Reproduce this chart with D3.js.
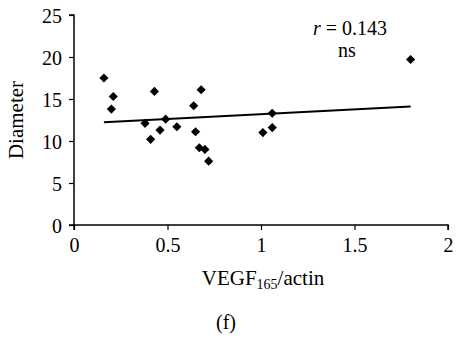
<!DOCTYPE html>
<html>
<head>
<meta charset="utf-8">
<script src="https://cdn.jsdelivr.net/npm/d3@7"></script>
<style>
  body { margin: 0; background: #fff; }
  svg text { font-family: "Liberation Serif", "DejaVu Serif", serif !important; fill: #000; }
</style>
</head>
<body>
<svg width="457" height="339"></svg>
<script>
// VEGF165/actin ratio vs diameter
var xs = [0.16, 0.21, 0.20, 0.38, 0.43, 0.41, 0.46, 0.49, 0.55, 0.64, 0.68, 0.65, 0.67, 0.70, 0.72, 1.06, 1.01, 1.06, 1.80];
var ys = [17.5, 15.3, 13.8, 12.1, 15.9, 10.2, 11.3, 12.6, 11.7, 14.2, 16.1, 11.1, 9.2, 9.0, 7.6, 13.3, 11.0, 11.6, 19.7];
var xTicks = [0, 0.5, 1, 1.5, 2];
var yTicks = [0, 5, 10, 15, 20, 25];
var trendSlope = 1.15, trendIntercept = 12.04;

var svg = d3.select("svg"),
    margin = {top: 15, right: 9, bottom: 114, left: 74},
    width = +svg.attr("width") - margin.left - margin.right,
    height = +svg.attr("height") - margin.top - margin.bottom,
    g = svg.append("g").attr("transform", "translate(" + margin.left + "," + margin.top + ")");

var x = d3.scaleLinear().domain([0, 2]).range([0, width]);
var y = d3.scaleLinear().domain([0, 25]).range([height, 0]);

var xAxis = g.append("g")
    .attr("transform", "translate(0," + height + ")")
    .call(d3.axisBottom(x).tickValues(xTicks).tickSize(5).tickFormat(d3.format("")));
var yAxis = g.append("g")
    .call(d3.axisLeft(y).tickValues(yTicks).tickSize(5));

[xAxis, yAxis].forEach(function(a) {
    a.attr("font-family", null).attr("font-size", null);
    a.select(".domain").attr("stroke", "#000").attr("stroke-width", 1.5);
    a.selectAll(".tick line").attr("stroke", "#000").attr("stroke-width", 1.2);
    a.selectAll("text").style("font-size", "20px");
});
xAxis.select(".domain").attr("d", "M0,5V0H" + width + "V5");
yAxis.select(".domain").attr("d", "M-5,0H0V" + height + "H-5");
xAxis.selectAll(".tick line").attr("y2", 5);
xAxis.selectAll("text").attr("y", 13);
yAxis.selectAll("text").attr("x", -12).attr("dy", "0.38em");

// trend line over data range
var xMin = d3.min(xs), xMax = d3.max(xs);
g.append("line")
    .attr("x1", x(xMin)).attr("y1", y(trendIntercept + trendSlope * xMin))
    .attr("x2", x(xMax)).attr("y2", y(trendIntercept + trendSlope * xMax))
    .attr("stroke", "#000").attr("stroke-width", 2);

var diamond = d3.symbol().type(d3.symbolSquare).size(42);
g.selectAll(".pt")
    .data(xs.map(function(v, i) { return [v, ys[i]]; }))
    .enter().append("path")
    .attr("class", "pt")
    .attr("d", diamond)
    .attr("fill", "#000")
    .attr("transform", function(d) { return "translate(" + x(d[0]) + "," + y(d[1]) + ") rotate(45)"; });

// annotation
var ann = svg.append("text")
    .attr("x", 350).attr("y", 35)
    .attr("text-anchor", "middle")
    .style("font-size", "20px");
ann.append("tspan").style("font-style", "italic").text("r");
ann.append("tspan").text(" = 0.143");
svg.append("text")
    .attr("x", 347).attr("y", 57)
    .attr("text-anchor", "middle")
    .style("font-size", "20px")
    .text("ns");

// axis titles
svg.append("text")
    .attr("transform", "translate(23," + (margin.top + height / 2) + ") rotate(-90)")
    .attr("text-anchor", "middle")
    .style("font-size", "21px")
    .text("Diameter");

var xt = svg.append("text")
    .attr("x", margin.left + width / 2 + 2).attr("y", 285)
    .attr("text-anchor", "middle")
    .style("font-size", "21px");
xt.append("tspan").text("VEGF");
xt.append("tspan").attr("dy", 4).style("font-size", "14px").text("165");
xt.append("tspan").attr("dy", -4).text("/actin");

svg.append("text")
    .attr("x", 226).attr("y", 329)
    .attr("text-anchor", "middle")
    .style("font-size", "20px")
    .text("(f)");
</script>
</body>
</html>
